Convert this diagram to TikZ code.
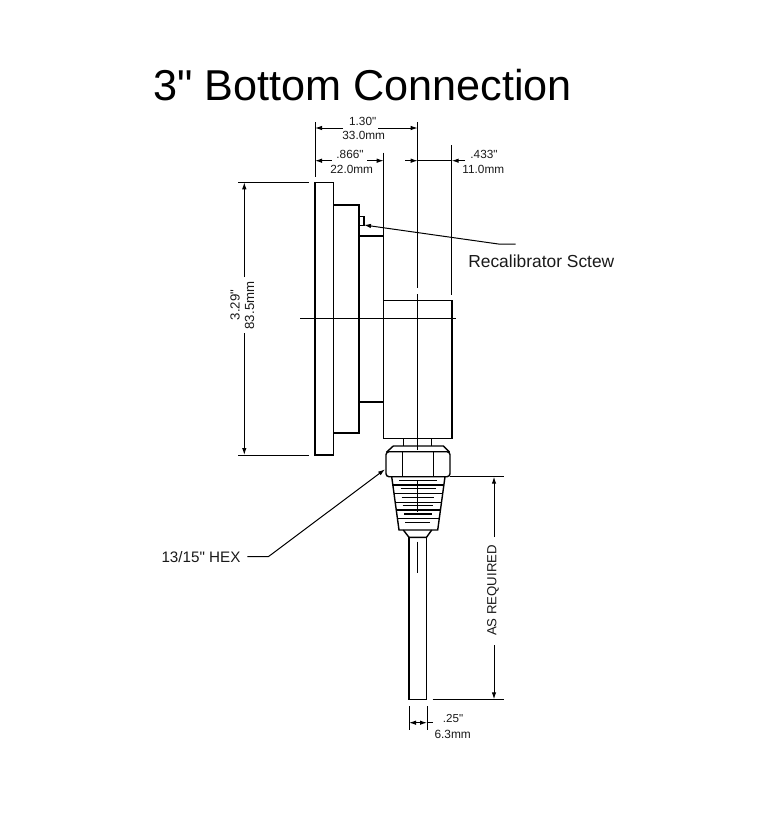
\documentclass[tikz,border=0pt]{standalone}
\usepackage{fontspec}
\setmainfont{Liberation Sans}
\newfontfamily\plainmarks{Liberation Sans}
\usetikzlibrary{arrows.meta}
\newcommand{\inchmark}{{\plainmarks\char34\relax}}
\tikzset{
  part/.style={line width=1.4pt,black},
  fine/.style={line width=1pt,black},
  tipped/.style={line width=1pt,black,-{Latex[length=7pt,width=4.5pt]}},
  lab/.style={inner sep=0pt,align=center,text=black!90},
  dimtext/.style={lab,font=\fontsize{11.8}{13}\selectfont},
  sidetext/.style={lab,font=\fontsize{13.2}{15}\selectfont,rotate=90}
}
\begin{document}
\begin{tikzpicture}[x=1pt,y=-1pt]
\useasboundingbox (0,0) rectangle (764,816);
\node[inner sep=0pt,font=\fontsize{43.2}{46}\selectfont] (title) at (362.5,85) {3\inchmark{} Bottom Connection};
% gauge body
\draw[part] (315,182.3) rectangle (333.5,455);
\draw[part] (333.5,205) rectangle (359,433);
\draw[part] (359,236) rectangle (383.7,402);
\draw[part] (359,216.7) -- (364,216.7) -- (364,225.7) -- (359,225.7);
\draw[part] (383.7,300.7) rectangle (452,438.3);
% neck and hex
\draw[part] (403.3,438.3) -- (403.3,446) (431.7,438.3) -- (431.7,446);
\draw[part] (386.7,452) -- (393.3,446) -- (443.3,446) -- (449.5,452);
\draw[part,rounded corners=3pt] (386,451.7) rectangle (450,476.7);
\draw[part] (402.3,451.7) -- (402.3,476.7) (433.3,451.7) -- (433.3,476.7);
% thread
\draw[part] (391.7,476.7) -- (399,530) -- (437.7,530) -- (445,476.7);
\foreach \yy/\xl/\xr in {485/392.9/443.8,493.3/394/442.6,502.3/395.2/441.4,510/396.3/440.3,518.3/397.4/439.2}
  \draw[line width=1.1pt,black] (\xl,\yy) -- (\xr,\yy);
\foreach \yy/\xl/\xr in {480.7/399/436.7,488.3/400.7/435.7,497.3/401.7/434,505.7/402.7/432.7,514/404/431.7,522.7/405.3/430}
  \draw[part] (\xl,\yy) -- (\xr,\yy);
% stem
\draw[part] (403.3,530) -- (409,537.3) -- (426.5,537.3) -- (431.7,530);
\draw[part] (409,537.3) -- (409,699.3) -- (426.7,699.3) -- (426.7,537.3);
% centre lines
\draw[fine] (300,318.7) -- (456,318.7);
\draw[fine] (417.7,122) -- (417.7,287.5);
\draw[fine] (417.7,294.3) -- (417.7,450);
\draw[fine] (417.7,480) -- (417.7,512);
\draw[fine] (417.7,541.7) -- (417.7,573.3);
% extension lines
\draw[fine] (315,122) -- (315,177);
\draw[fine] (383.7,152.7) -- (383.7,236);
\draw[fine] (451.7,145) -- (451.7,295);
\draw[fine] (238.3,182.3) -- (309.3,182.3);
\draw[fine] (238.3,455) -- (309.3,455);
\draw[fine] (450,476.7) -- (503.5,476.7);
\draw[fine] (432.7,699.3) -- (504,699.3);
\draw[fine] (409,706) -- (409,730);
\draw[fine] (427,706) -- (427,730);
% dimension texts
\node[dimtext] (d1a) at (362.7,121.7) {1.30\inchmark};
\node[dimtext] (d1b) at (363.7,135.7) {33.0mm};
\node[dimtext] (d2a) at (350,154.3) {.866\inchmark};
\node[dimtext] (d2b) at (351.7,169.3) {22.0mm};
\node[dimtext] (d3a) at (484,154.3) {.433\inchmark};
\node[dimtext] (d3b) at (483.3,169.3) {11.0mm};
\node[sidetext] (h1) at (235,305) {3.29\inchmark};
\node[sidetext] (h2) at (249.5,305.5) {83.5mm};
\node[lab,font=\fontsize{13.2}{15}\selectfont,rotate=90] (req) at (493,590.5) {AS REQUIRED};
\node[lab,font=\fontsize{11.6}{13}\selectfont] (d4a) at (453,718) {.25\inchmark};
\node[lab,font=\fontsize{11.9}{13}\selectfont] (d4b) at (452.7,734) {6.3mm};
\node[lab,font=\fontsize{15.2}{17}\selectfont] (hex) at (201,556.7) {13/15\inchmark{} HEX};
\node[lab,font=\fontsize{17.4}{20}\selectfont] (recal) at (541.3,261.7) {Recalibrator Sctew};
% dimension lines
\draw[tipped] (343,128) -- (315,128);
\draw[tipped] (378.3,128) -- (417.7,128);
\draw[tipped] (331.7,160.7) -- (315,160.7);
\draw[tipped] (367.3,160.7) -- (383.7,160.7);
\draw[tipped] (405,160.7) -- (417.7,160.7);
\draw[tipped] (465,160.7) -- (451.7,160.7);
\draw[fine] (417.7,160.7) -- (451.7,160.7);
\draw[tipped] (244.3,277) -- (244.3,182.3);
\draw[tipped] (244.3,333) -- (244.3,455);
\draw[tipped] (494,537) -- (494,476.7);
\draw[tipped] (494,645) -- (494,699.3);
\draw[tipped] (418,722.7) -- (409,722.7);
\draw[tipped] (418,722.7) -- (427,722.7);
\draw[fine] (427,722.7) -- (432.7,722.7);
% leaders
\draw[tipped] (515.7,244) -- (498.3,244) -- (364,225);
\draw[tipped] (247.3,556.7) -- (268.3,556.7) -- (385,469.3);
\end{tikzpicture}
\end{document}
